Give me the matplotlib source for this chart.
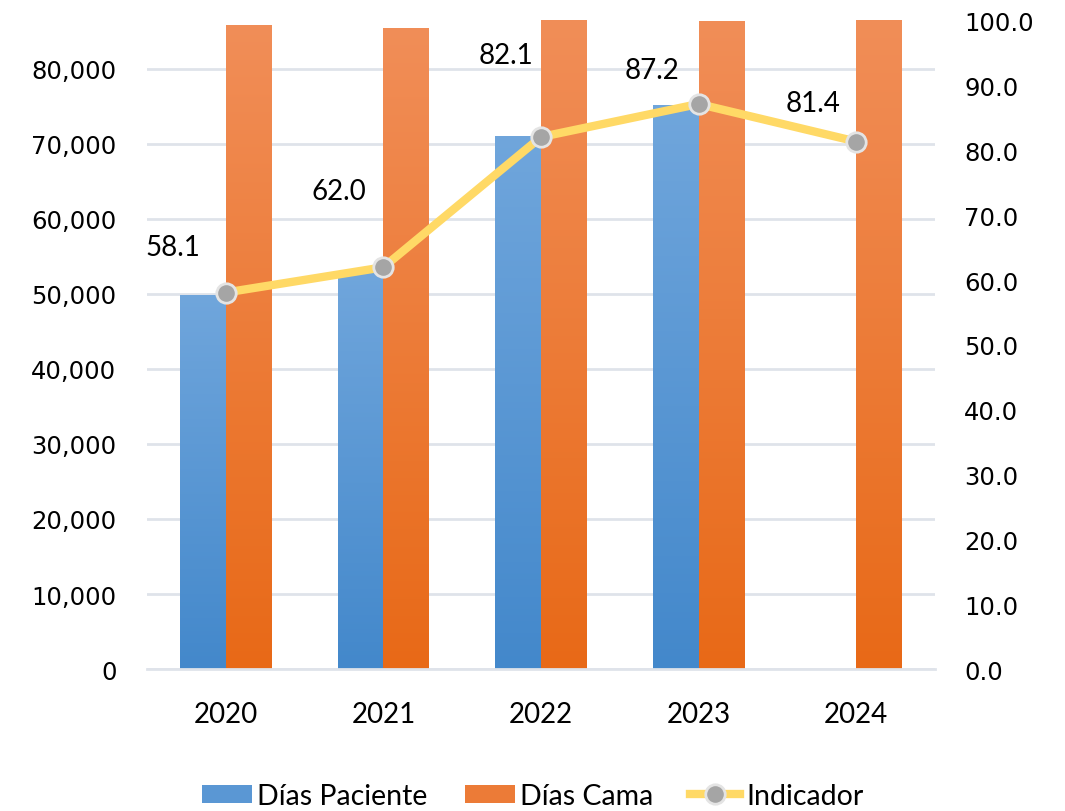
import numpy as np
import matplotlib
matplotlib.use("Agg")
import matplotlib.pyplot as plt
from matplotlib.colors import LinearSegmentedColormap
from matplotlib.patches import Patch
from matplotlib.lines import Line2D
from matplotlib.ticker import FuncFormatter

# datos
years = ["2020", "2021", "2022", "2023", "2024"]
dias_paciente = [49900, 52990, 71070, 75200, np.nan]
dias_cama = [85870, 85470, 86600, 86450, 86600]
indicador = [58.1, 62.0, 82.1, 87.2, 81.4]

# desplazamiento de etiquetas (pixeles) respecto al punto
label_offsets = [(-53, 46), (-45, 76), (-35, 82), (-47, 34), (-43, 39)]

LABEL_FONT = "Lato"
TICK_FONT = "DejaVu Sans"

fig = plt.figure(figsize=(10.65, 8.12), dpi=100)
ax = fig.add_axes([147 / 1065, 1 - 670 / 812, (935 - 147) / 1065, (670 - 22) / 812])
ax2 = ax.twinx()

x = np.arange(len(years))
w = 0.29

def gradient_bars(axis, xs, vals, top, bottom, label):
    bars = axis.bar(xs, vals, width=w, color="none", edgecolor="none", label=label, zorder=2)
    cmap = LinearSegmentedColormap.from_list("g", [bottom, top])
    grad = np.linspace(0, 1, 256).reshape(-1, 1)
    for p in bars.patches:
        h = p.get_height()
        if not np.isfinite(h) or h <= 0:
            continue
        im = axis.imshow(grad, cmap=cmap, origin="lower", aspect="auto",
                         extent=[p.get_x(), p.get_x() + p.get_width(), 0, h], zorder=2)
        im.set_clip_path(p)
    return bars

gradient_bars(ax, x - w / 2, dias_paciente, "#70a6dc", "#4388cb", "Días Paciente")
gradient_bars(ax, x + w / 2, dias_cama, "#f18e58", "#e86917", "Días Cama")

ax.set_xlim(-0.5, len(years) - 0.5)
ax.set_ylim(0, 86400)
ax.set_yticks(np.arange(0, 80001, 10000))
ax.yaxis.set_major_formatter(FuncFormatter(lambda v, p: f"{int(v):,}"))
ax.set_xticks(x)
ax.set_xticklabels(years, fontfamily=LABEL_FONT, fontsize=20)
ax.grid(axis="y", color="#dfe3ea", linewidth=2, zorder=0)
ax.set_axisbelow(True)
for s in ["top", "left", "right"]:
    ax.spines[s].set_visible(False)
ax.spines["bottom"].set_color("#dfe3ea")
ax.spines["bottom"].set_linewidth(2)
ax.tick_params(axis="y", length=0, pad=22, labelsize=17.5)
ax.tick_params(axis="x", length=0, pad=23)
for t in ax.get_yticklabels():
    t.set_fontfamily(TICK_FONT)

ax2.plot(x, indicador, color="#ffd966", linewidth=6, marker="o", markersize=14,
         markerfacecolor="#a5a5a5", markeredgecolor="#e4e4e4", markeredgewidth=2,
         zorder=5, solid_capstyle="round")
ax2.set_ylim(0, 100)
ax2.set_yticks(np.arange(0, 101, 10))
ax2.yaxis.set_major_formatter(FuncFormatter(lambda v, p: f"{v:.1f}"))
ax2.tick_params(axis="y", length=0, pad=21, labelsize=17.5)
for t in ax2.get_yticklabels():
    t.set_fontfamily(TICK_FONT)
for s in ax2.spines.values():
    s.set_visible(False)

for xi, v, (dx, dy) in zip(x, indicador, label_offsets):
    ax2.annotate(f"{v:.1f}", (xi, v), xytext=(dx, dy), textcoords="offset pixels",
                 ha="center", va="center", fontsize=20, fontfamily=LABEL_FONT, color="#000000")

handles = [
    Patch(facecolor="#5a97d4", edgecolor="none", label="Días Paciente"),
    Patch(facecolor="#ec7b37", edgecolor="none", label="Días Cama"),
    Line2D([0], [0], color="#ffd966", linewidth=6, marker="o", markersize=14,
           markerfacecolor="#a5a5a5", markeredgecolor="#e4e4e4", markeredgewidth=2,
           label="Indicador"),
]
fig.legend(handles=handles, loc="center", bbox_to_anchor=(0.5, 1 - 797 / 812), ncol=3,
           frameon=False, prop={"family": LABEL_FONT, "size": 20.5}, handlelength=1.75,
           handleheight=0.62, handletextpad=0.2, columnspacing=1.3)

fig.savefig("out.png", dpi=100)
